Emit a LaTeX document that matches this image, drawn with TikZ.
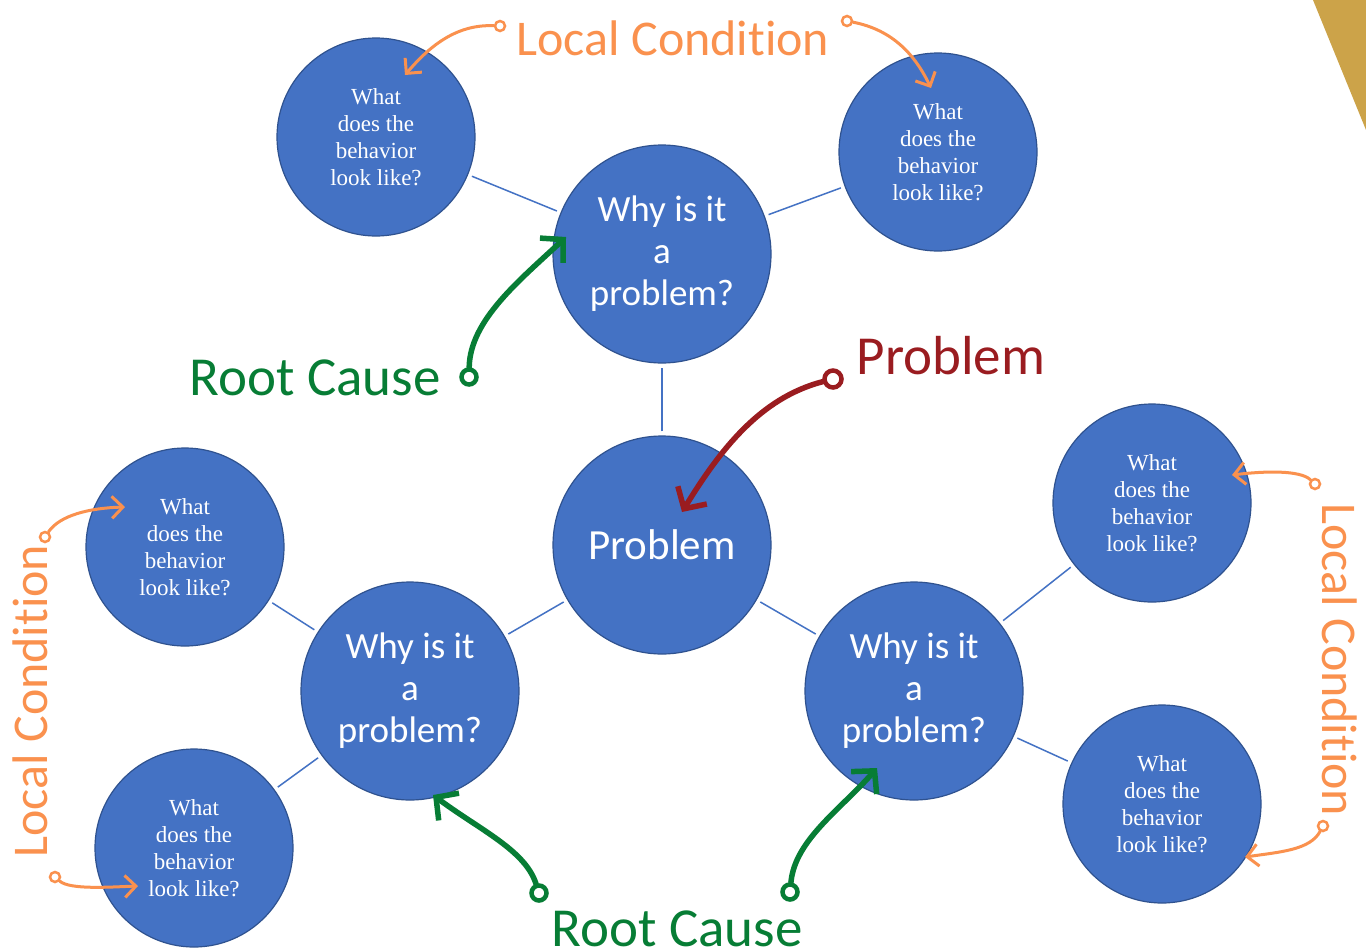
\documentclass[tikz,border=0pt]{standalone}
\usepackage{fontspec}
\usetikzlibrary{arrows.meta}
\newfontfamily\carl[Ligatures=NoCommon]{Carlito}
\newfontfamily\tms{Liberation Serif}
\definecolor{cblue}{HTML}{4472C4}
\definecolor{cedge}{HTML}{2F528F}
\definecolor{corange}{HTML}{FA914E}
\definecolor{cgreen}{HTML}{077D35}
\definecolor{cred}{HTML}{9A1C20}
\definecolor{cgold}{HTML}{CCA349}
\begin{document}
\begin{tikzpicture}[x=1pt,y=-1pt,
  bubble/.style={circle, fill=cblue, draw=cedge, line width=1.2pt, text=white, align=center, inner sep=0pt},
  small/.style={bubble, minimum size=198pt, font=\tms\fontsize{23}{27}\selectfont},
  big/.style={bubble, minimum size=218pt, font=\carl\fontsize{37}{42}\selectfont},
  link/.style={draw=cblue, line width=1.5pt, shorten <=4pt, shorten >=4pt},
  note/.style={font=\carl\fontsize{55}{62}\selectfont, inner sep=0pt},
  onote/.style={note, text=corange, font=\carl\fontsize{50}{60}\selectfont},
  oloop/.style={circle, draw=corange, line width=2.5pt, minimum size=10pt, inner sep=0pt},
  gloop/.style={circle, draw=cgreen, line width=4.5pt, minimum size=15pt, inner sep=0pt},
  rloop/.style={circle, draw=cred, line width=4.5pt, minimum size=17pt, inner sep=0pt},
  oarrow/.style={draw=corange, line width=3pt, line cap=round, -{Straight Barb[length=11pt,width=22pt,line width=3pt]}},
  garrow/.style={draw=cgreen, line width=5.5pt, line cap=round, -{Straight Barb[length=16pt,width=34pt,line width=5.5pt]}},
  rarrow/.style={draw=cred, line width=5.5pt, line cap=round, -{Straight Barb[length=16pt,width=34pt,line width=5.5pt]}}
]
\useasboundingbox (0,0) rectangle (1366,948);
\fill[white] (0,0) rectangle (1366,948);
% corner accent
\fill[cgold] (1313,0) -- (1366,0) -- (1366,130) -- cycle;

% bubbles
\node[big] (c0) at (662,545) {\fontsize{43}{48}\selectfont Problem};
\node[big] (wt) at (662,254) {Why is it\\a\\problem?};
\node[big] (wl) at (410,691) {Why is it\\a\\problem?};
\node[big] (wr) at (914,691) {Why is it\\a\\problem?};
\node[small] (s1) at (376,137) {What\\does the\\behavior\\look like?};
\node[small] (s2) at (938,152) {What\\does the\\behavior\\look like?};
\node[small] (s3) at (185,547) {What\\does the\\behavior\\look like?};
\node[small] (s4) at (194,848) {What\\does the\\behavior\\look like?};
\node[small] (s5) at (1152,503) {What\\does the\\behavior\\look like?};
\node[small] (s6) at (1162,804) {What\\does the\\behavior\\look like?};

% links
\draw[link] (c0) -- (wt);
\draw[link] (c0) -- (wl);
\draw[link] (c0) -- (wr);
\draw[link] (wt) -- (s1);
\draw[link] (wt) -- (s2);
\draw[link] (wl) -- (s3);
\draw[link] (wl) -- (s4);
\draw[link] (wr) -- (s5);
\draw[link] (wr) -- (s6);

% labels
\node[onote, anchor=base] (lct) at (673,55) {Local Condition};
\node[onote, rotate=90] (lcl) at (30,701) {Local Condition};
\node[onote, rotate=-90] (lcr) at (1340,660) {Local Condition};
\node[note, text=cgreen, anchor=base] (rct) at (315,395) {Root Cause};
\node[note, text=cgreen, anchor=base] (rcb) at (677,946) {Root Cause};
\node[note, text=cred, anchor=base] (pb) at (951,374) {Problem};

% arrow tails
\node[oloop] (o1) at (500,26) {};
\node[oloop] (o2) at (847,21) {};
\node[oloop] (o3) at (45,537) {};
\node[oloop] (o4) at (55,877) {};
\node[oloop] (o5) at (1315,484) {};
\node[oloop] (o6) at (1323,826) {};
\node[gloop] (g1) at (469,377) {};
\node[gloop] (g2) at (539,893) {};
\node[gloop] (g3) at (790,892) {};
\node[rloop] (r1) at (833,379) {};

% arrow heads
\coordinate (t1) at (405,75);
\coordinate (t2) at (931,88);
\coordinate (t3) at (125,507);
\coordinate (t4) at (138,886);
\coordinate (t5) at (1232,475);
\coordinate (t6) at (1245,857);
\coordinate (tg1) at (566,237);
\coordinate (tg2) at (433,795);
\coordinate (tg3) at (877,768);
\coordinate (tr1) at (682,512);

% arrows
\draw[oarrow] (o1) .. controls (455,24) and (428,48) .. (t1);
\draw[oarrow] (o2) .. controls (893,30) and (915,55) .. (t2);
\draw[oarrow] (o3) .. controls (60,515) and (90,508) .. (t3);
\draw[oarrow] (o4) .. controls (70,890) and (110,887) .. (t4);
\draw[oarrow] (o5) .. controls (1300,470) and (1265,471) .. (t5);
\draw[oarrow] (o6) .. controls (1310,850) and (1280,852) .. (t6);
\draw[garrow] (g1) .. controls (470,320) and (520,280) .. (tg1);
\draw[garrow] (g2) .. controls (525,850) and (480,830) .. (tg2);
\draw[garrow] (g3) .. controls (795,840) and (840,810) .. (tg3);
\draw[rarrow] (r1) .. controls (760,398) and (720,450) .. (tr1);
\end{tikzpicture}
\end{document}
